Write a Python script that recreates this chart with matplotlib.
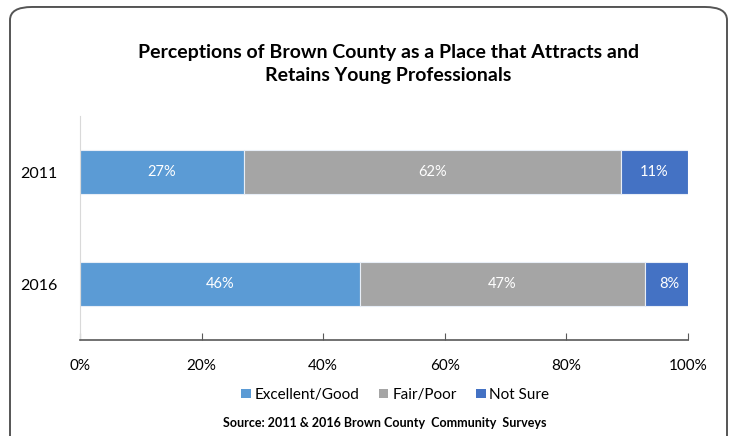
import matplotlib.pyplot as plt
from matplotlib.patches import FancyBboxPatch, Patch

years = ["2011", "2016"]
categories = ["Excellent/Good", "Fair/Poor", "Not Sure"]
excellent_good = [27, 46]
fair_poor = [62, 47]
not_sure = [11, 8]
colors = ["#5B9BD5", "#A5A5A5", "#4472C4"]

TITLE = "Perceptions of Brown County as a Place that Attracts and\nRetains Young Professionals"
SOURCE = "Source: 2011 & 2016 Brown County  Community  Surveys"

plt.rcParams["font.family"] = ["Lato", "DejaVu Sans"]


def main() -> None:
    fig = plt.figure(figsize=(7.35, 4.36), dpi=100)

    # rounded frame around the whole chart (bottom edge runs off the image)
    frame = FancyBboxPatch((10 / 735, -0.05), 717 / 735, 1.034,
                           boxstyle="round,pad=0,rounding_size=0.03",
                           transform=fig.transFigure, facecolor="none",
                           edgecolor="#555555", linewidth=1.4, zorder=0)
    fig.patches.append(frame)

    ax = fig.add_axes([80 / 735, 96 / 436, 608 / 735, 224 / 436])
    ax.set_facecolor("none")

    ypos = [1, 0]
    series = [excellent_good, fair_poor, not_sure]
    left = [0, 0]
    for vals, col in zip(series, colors):
        bars = ax.barh(ypos, vals, left=left, height=0.4, color=col,
                       edgecolor="#E8EEF7", linewidth=0.8)
        for b, v, l in zip(bars, vals, left):
            ax.text(l + v / 2, b.get_y() + b.get_height() / 2, f"{v}%",
                    ha="center", va="center", color="white", fontsize=10.5)
        left = [a + b for a, b in zip(left, vals)]

    ax.set_xlim(0, 100)
    ax.set_ylim(-0.5, 1.5)
    ax.set_yticks(ypos)
    ax.set_yticklabels(years, fontsize=11.5)
    ax.set_xticks(range(0, 101, 20))
    ax.set_xticklabels([f"{t}%" for t in range(0, 101, 20)], fontsize=11)
    ax.tick_params(axis="y", length=0, pad=16)
    ax.tick_params(axis="x", direction="in", length=5, color="#595959", pad=14)

    for side in ["top", "right"]:
        ax.spines[side].set_visible(False)
    ax.spines["left"].set_color("#D9D9D9")
    ax.spines["bottom"].set_color("#595959")
    ax.spines["bottom"].set_linewidth(1.2)

    fig.text(0.528, 0.854, TITLE, ha="center", va="center", fontsize=14,
             fontweight="bold", linespacing=1.45)

    handles = [Patch(facecolor=c, label=n) for c, n in zip(colors, categories)]
    fig.legend(handles=handles, loc="center", bbox_to_anchor=(0.538, 0.094),
               ncol=3, frameon=False, fontsize=11, handlelength=0.6,
               handleheight=0.6, handletextpad=0.25, columnspacing=1.3)

    fig.text(0.523, 0.03, SOURCE, ha="center", va="center", fontsize=9,
             fontweight="bold")

    fig.savefig("out.png", dpi=100)


if __name__ == "__main__":
    main()
